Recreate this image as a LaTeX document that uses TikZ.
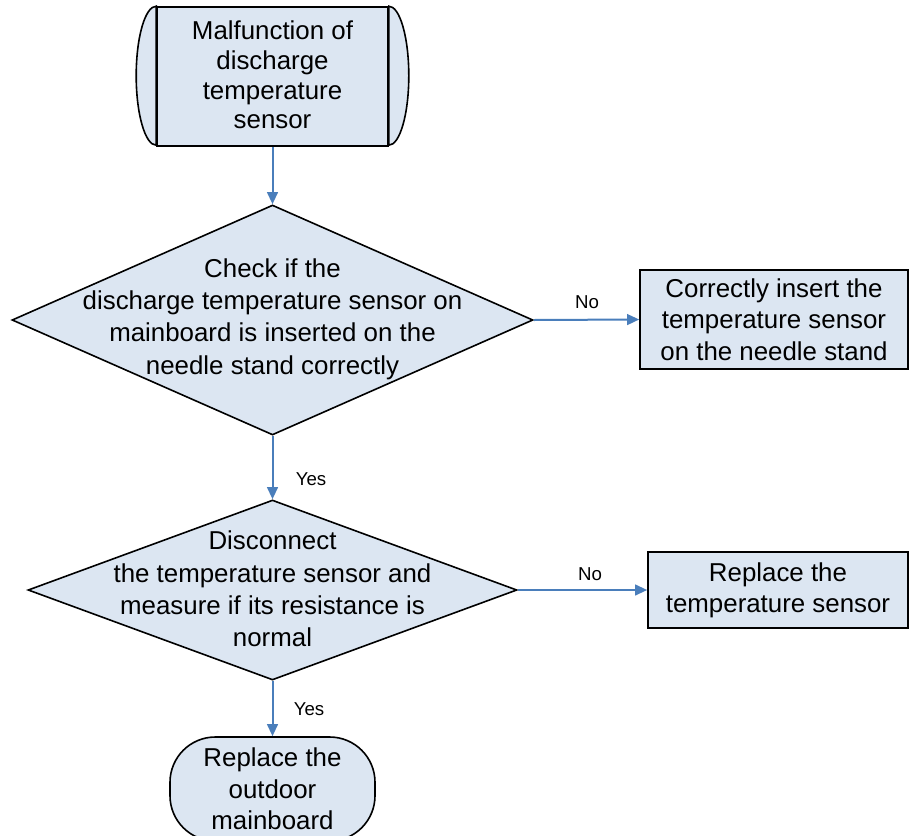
\documentclass[tikz,border=0pt]{standalone}
\usepackage{fontspec}
\setmainfont{Liberation Sans}
\usetikzlibrary{shapes.geometric,arrows.meta}
\definecolor{chartfill}{RGB}{220,230,242}
\definecolor{flowblue}{RGB}{74,126,187}
\begin{document}
\begin{tikzpicture}[x=0.75pt,y=-0.75pt,
  every node/.style={font=\fontsize{19.4}{23.5}\selectfont,align=center},
  procbox/.style={draw,line width=1.2pt,fill=chartfill,rectangle,inner sep=0pt},
  decision/.style={draw,line width=1.2pt,fill=chartfill,diamond,inner sep=0pt},
  asktext/.style={font=\fontsize{19.4}{24.3}\selectfont},
  flow/.style={draw=flowblue,line width=1.5pt,-{Triangle[length=9pt,width=8pt]}},
  answer/.style={font=\fontsize{14}{16}\selectfont}]
\useasboundingbox (0,0) rectangle (909,835);
% start: predefined process
\node[procbox,minimum width=173.25pt,minimum height=104.25pt] (start) at (272.5,76.5) {};
\filldraw[fill=chartfill,line width=1.2pt] (start.north west) arc[start angle=90,end angle=270,x radius=15pt,y radius=52.125pt] -- cycle;
\filldraw[fill=chartfill,line width=1.2pt] (start.north east) arc[start angle=90,end angle=-90,x radius=15pt,y radius=52.125pt] -- cycle;
\node[font=\fontsize{19.4}{22.3}\selectfont] (starttxt) at (272.5,75) {Malfunction of\\discharge\\temperature\\sensor};
% first check
\node[decision,minimum width=390.75pt,minimum height=172.5pt] (chk1) at (272.5,320) {};
\node[asktext] (chk1txt) at (272.5,319) {Check if the\\discharge temperature sensor on\\mainboard is inserted on the\\needle stand correctly};
\node[procbox,minimum width=201pt,minimum height=74.25pt] (insert) at (774,319.5) {Correctly insert the\\temperature sensor\\on the needle stand};
% second check
\node[decision,minimum width=366.75pt,minimum height=135pt] (chk2) at (272.5,590) {};
\node[asktext] (chk2txt) at (272.5,589) {Disconnect\\the temperature sensor and\\measure if its resistance is\\normal};
\node[procbox,minimum width=195pt,minimum height=57pt] (sensor) at (778,590) {Replace the\\temperature sensor};
% end
\node[draw,line width=1.2pt,fill=chartfill,rounded corners=34pt,minimum width=153.75pt,minimum height=78pt,inner sep=0pt] (board) at (272.5,789) {Replace the\\outdoor\\mainboard};
% connectors
\draw[flow] (start.south) -- (chk1.north);
\draw[flow] (chk1.east) -- (insert.west);
\draw[flow] (chk1.south) -- (chk2.north);
\draw[flow] (chk2.east) -- (sensor.west);
\draw[flow] (chk2.south) -- (board.north);
\node[answer] (no1) at (587,302) {No};
\node[answer] (yes1) at (311,479) {Yes};
\node[answer] (no2) at (590,574) {No};
\node[answer] (yes2) at (309,709) {Yes};
\end{tikzpicture}
\end{document}
